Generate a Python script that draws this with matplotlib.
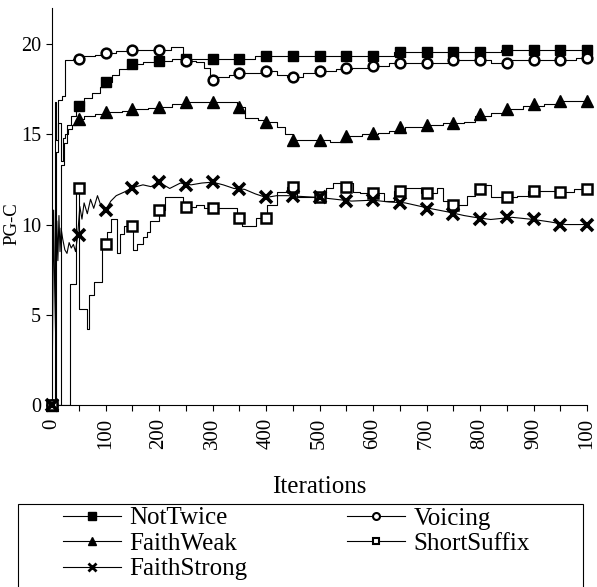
import matplotlib
matplotlib.use("Agg")
import matplotlib.pyplot as plt
from matplotlib.lines import Line2D
from matplotlib.patches import Rectangle

# marker positions (every 50 iterations)
mark_x = [0, 50, 100, 150, 200, 250, 300, 350, 400, 450, 500,
          550, 600, 650, 700, 750, 800, 850, 900, 950, 1000]

nottwice_marks = [0, 16.55, 17.9, 18.9, 19.05, 19.2, 19.2, 19.2, 19.35, 19.35, 19.35,
                  19.35, 19.35, 19.57, 19.57, 19.57, 19.57, 19.67, 19.67, 19.67, 19.67]
voicing_marks = [0, 19.2, 19.5, 19.67, 19.67, 19.06, 18.0, 18.4, 18.5, 18.2, 18.5,
                 18.65, 18.8, 18.94, 18.94, 19.1, 19.1, 18.94, 19.1, 19.1, 19.24]
faithweak_marks = [0, 15.85, 16.24, 16.4, 16.5, 16.8, 16.8, 16.5, 15.7, 14.7, 14.7,
                   14.9, 15.05, 15.4, 15.5, 15.65, 16.1, 16.4, 16.67, 16.85, 16.85]
shortsuffix_marks = [0, 12.0, 8.9, 9.9, 10.8, 10.96, 10.9, 10.37, 10.37, 12.1, 11.5,
                     12.1, 11.75, 11.85, 11.75, 11.1, 11.98, 11.5, 11.85, 11.8, 11.98]
faithstrong_marks = [0, 9.4, 10.8, 12.04, 12.35, 12.2, 12.35, 11.98, 11.5, 11.6, 11.5,
                     11.3, 11.35, 11.2, 10.87, 10.6, 10.28, 10.4, 10.28, 10.0, 10.0]

# the traces between markers
nottwice_x = [0, 17, 22, 28, 35, 45, 60, 75, 90, 100, 112, 125, 140, 150, 170, 195,
              225, 380, 640, 840, 1000]
nottwice_y = [0, 13.3, 14.5, 15.5, 16.0, 16.55, 17.0, 17.3, 17.6, 17.9, 18.3, 18.6,
              18.8, 18.9, 19.0, 19.05, 19.2, 19.35, 19.57, 19.67, 19.67]

voicing_x = [0, 5, 8, 11, 18, 24, 40, 60, 80, 100, 120, 140, 222, 245, 250, 270, 285,
             295, 310, 330, 350, 390, 420, 440, 470, 500, 530, 560, 590, 630, 740, 820,
             860, 980, 1000]
voicing_y = [0, 16.8, 14.7, 16.9, 17.1, 19.1, 19.2, 19.35, 19.4, 19.5, 19.6, 19.67,
             19.85, 19.2, 19.06, 19.0, 18.7, 18.0, 18.15, 18.3, 18.4, 18.5, 18.3, 18.2,
             18.4, 18.5, 18.6, 18.65, 18.8, 18.94, 19.1, 18.94, 19.1, 19.24, 19.24]

faithweak_x = [0, 8, 12, 16, 20, 25, 30, 38, 45, 60, 80, 100, 130, 150, 180, 200, 225,
               250, 330, 345, 360, 385, 400, 420, 435, 450, 520, 550, 580, 610, 630, 660,
               700, 730, 770, 790, 820, 850, 880, 920, 950, 1000]
faithweak_y = [0, 14.0, 15.6, 13.5, 14.8, 15.0, 15.3, 15.5, 15.85, 16.0, 16.1, 16.24,
               16.3, 16.4, 16.45, 16.5, 16.7, 16.8, 16.8, 16.5, 15.9, 15.8, 15.7, 15.4,
               15.0, 14.7, 14.6, 14.9, 15.0, 15.05, 15.2, 15.4, 15.5, 15.6, 15.7, 16.0,
               16.2, 16.4, 16.55, 16.67, 16.85, 16.85]

shortsuffix_x = [0, 33, 45, 50, 66, 69, 78, 94, 100, 102, 111, 122, 127, 135, 152, 158,
                 171, 177, 183, 200, 211, 245, 270, 285, 300, 345, 355, 382, 395, 402,
                 420, 440, 458, 500, 513, 525, 562, 575, 600, 620, 640, 660, 690, 700,
                 720, 730, 745, 775, 790, 805, 820, 845, 870, 890, 940, 975, 1000]
shortsuffix_y = [0, 6.7, 12.0, 5.3, 4.2, 6.1, 6.8, 8.9, 8.9, 9.6, 10.3, 8.4, 9.5, 9.9,
                 8.6, 8.9, 9.3, 9.6, 10.2, 10.8, 11.55, 10.96, 11.1, 10.9, 10.9, 10.37,
                 9.9, 10.37, 10.37, 11.1, 11.8, 12.1, 11.5, 11.5, 12.0, 12.3, 11.8, 11.75,
                 11.75, 11.3, 11.85, 12.0, 11.75, 11.75, 12.0, 11.3, 11.1, 11.6, 11.98,
                 12.2, 11.5, 11.5, 11.6, 11.85, 11.8, 11.98, 11.98]

faithstrong_x = [0, 3, 5, 7, 9, 11, 13, 15, 17, 20, 24, 28, 32, 36, 40, 44, 48, 52, 56,
                 60, 66, 72, 78, 85, 92, 100, 110, 120, 135, 150, 170, 185, 200, 220,
                 240, 260, 280, 300, 320, 340, 360, 380, 400, 420, 440, 470, 500, 530,
                 560, 600, 630, 660, 690, 710, 740, 770, 790, 820, 860, 900, 930, 960,
                 1000]
faithstrong_y = [0, 10.8, 6.5, 3.5, 10.2, 8.0, 10.5, 8.5, 9.8, 9.2, 8.6, 8.4, 9.0, 8.7,
                 8.9, 8.5, 9.4, 11.0, 10.3, 11.2, 10.6, 11.4, 10.9, 11.6, 11.0, 10.8,
                 11.3, 11.6, 11.8, 12.04, 12.2, 12.1, 12.35, 12.0, 12.3, 12.2, 12.3,
                 12.35, 12.2, 12.0, 11.95, 11.7, 11.5, 11.6, 11.6, 11.55, 11.5, 11.4,
                 11.3, 11.35, 11.25, 11.2, 11.0, 10.87, 10.7, 10.5, 10.4, 10.28, 10.4,
                 10.28, 10.15, 10.0, 10.0]

xtick_vals = [0, 100, 200, 300, 400, 500, 600, 700, 800, 900, 1000]
xtick_labels = ["0", "100", "200", "300", "400", "500", "600", "700", "800", "900", "100"]
ytick_vals = [0, 5, 10, 15, 20]

plt.rcParams["font.family"] = ["Liberation Serif", "DejaVu Serif"]

fig = plt.figure(figsize=(5.97, 5.87), dpi=100)
ax = fig.add_axes([52 / 597, (587 - 405) / 587, 535 / 597, 397 / 587])

lw = 0.8
ax.plot(nottwice_x, nottwice_y, color="black", lw=lw, drawstyle="steps-post")
ax.plot(voicing_x, voicing_y, color="black", lw=lw, drawstyle="steps-post")
ax.plot(faithweak_x, faithweak_y, color="black", lw=lw, drawstyle="steps-post")
ax.plot(shortsuffix_x, shortsuffix_y, color="black", lw=lw, drawstyle="steps-post")
ax.plot(faithstrong_x, faithstrong_y, color="black", lw=lw)

ax.plot(mark_x, nottwice_marks, ls="none", marker="s", ms=7.5, mfc="black", mec="black", clip_on=False, zorder=4)
ax.plot(mark_x, voicing_marks, ls="none", marker="o", ms=7, mfc="white", mec="black", mew=1.8, clip_on=False, zorder=4)
ax.plot(mark_x, faithweak_marks, ls="none", marker="^", ms=8, mfc="black", mec="black", clip_on=False, zorder=4)
ax.plot(mark_x, shortsuffix_marks, ls="none", marker="s", ms=7, mfc="white", mec="black", mew=1.8, clip_on=False, zorder=4)
ax.plot(mark_x, faithstrong_marks, ls="none", marker="x", ms=8.5, mec="black", mew=2.6, clip_on=False, zorder=4)

ax.set_xlim(0, 1000)
ax.set_ylim(0, 22)
ax.spines["top"].set_visible(False)
ax.spines["right"].set_visible(False)
ax.spines["left"].set_linewidth(0.8)
ax.spines["bottom"].set_linewidth(0.8)

ax.set_xticks(xtick_vals)
ax.set_xticklabels(xtick_labels, rotation=90, fontsize=15)
ax.set_xticks([50, 150, 250, 350, 450, 550, 650, 750, 850, 950], minor=True)
ax.set_yticks(ytick_vals)
ax.set_yticklabels([str(v) for v in ytick_vals], fontsize=14.5)
ax.tick_params(axis="both", which="both", direction="out", length=4.5, width=0.8, color="black")
ax.tick_params(axis="x", pad=5)

ax.set_xlabel("Iterations", fontsize=18, labelpad=19)
ax.set_ylabel("PG-C", fontsize=13.5)
ax.yaxis.set_label_coords(-0.059, 0.456)

# legend
h_nt = Line2D([], [], color="black", lw=lw, marker="s", ms=5.5, mfc="black", mec="black")
h_vo = Line2D([], [], color="black", lw=lw, marker="o", ms=5, mfc="white", mec="black", mew=1.5)
h_fw = Line2D([], [], color="black", lw=lw, marker="^", ms=6, mfc="black", mec="black")
h_ss = Line2D([], [], color="black", lw=lw, marker="s", ms=5, mfc="white", mec="black", mew=1.5)
h_fs = Line2D([], [], color="black", lw=lw, marker="x", ms=6, mec="black", mew=2)

leg_kw = dict(frameon=False, fontsize=18, borderpad=0, borderaxespad=0,
              handlelength=2.3, handletextpad=0.35, labelspacing=0.12, loc="upper left")
leg1 = fig.legend([h_nt, h_fw, h_fs], ["NotTwice", "FaithWeak", "FaithStrong"],
                  bbox_to_anchor=(63 / 597, 1 - 507 / 587), **leg_kw)
leg2 = fig.legend([h_vo, h_ss], ["Voicing", "ShortSuffix"],
                  bbox_to_anchor=(347 / 597, 1 - 507 / 587), **leg_kw)

fig.patches.append(Rectangle((18 / 597, -0.05), 565 / 597, 1 - 504 / 587 + 0.05,
                             transform=fig.transFigure, fill=False, ec="black", lw=0.8))

fig.savefig("out.png", dpi=100)
